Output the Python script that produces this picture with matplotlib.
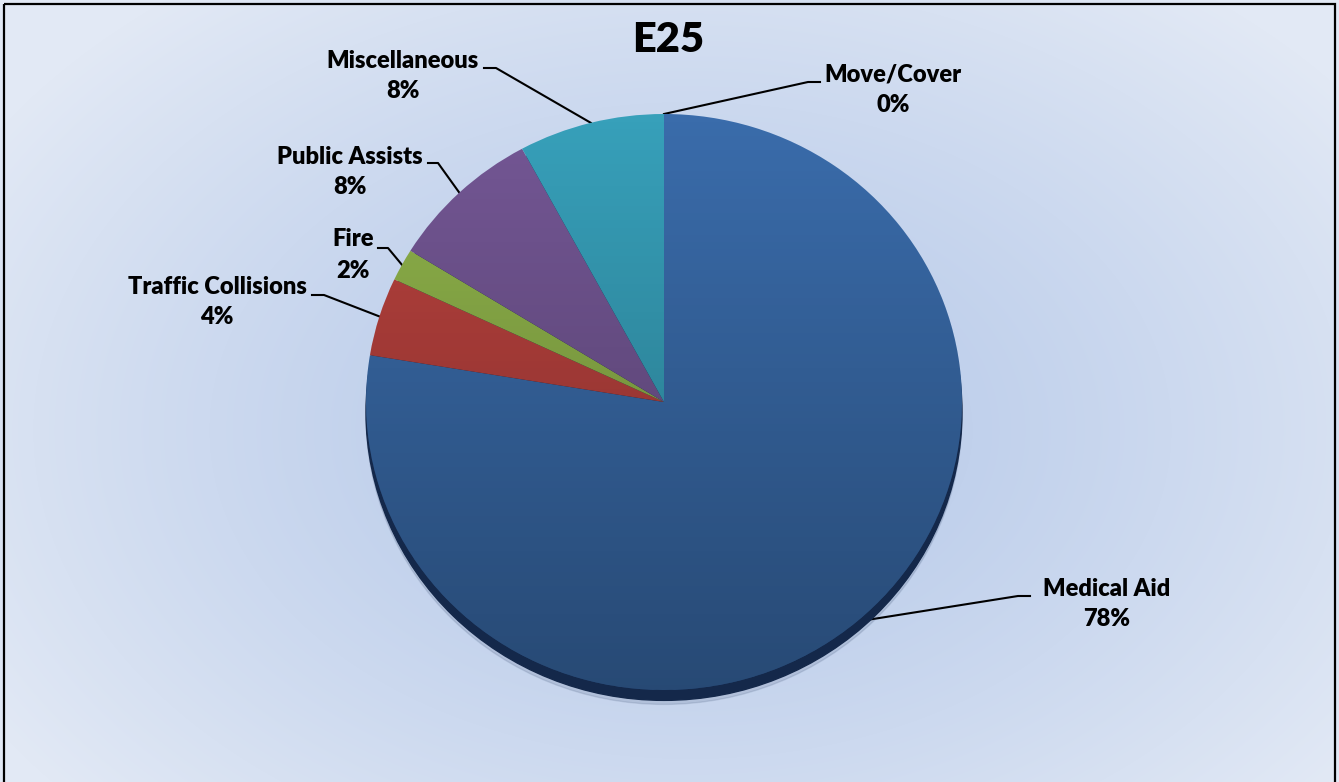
import numpy as np
import matplotlib
matplotlib.use("Agg")
import matplotlib.pyplot as plt
from matplotlib.patches import Ellipse, Circle, Rectangle

plt.rcParams['font.family'] = ['Lato', 'DejaVu Sans']

# data (clockwise from 12 o'clock)
categories = ["Medical Aid", "Traffic Collisions", "Fire", "Public Assists",
              "Miscellaneous", "Move/Cover"]
values = [77.6, 4.4, 1.8, 8.3, 7.9, 0.0]
colors = ["#3a6cab", "#b9423e", "#90b44b", "#745795", "#37a0ba", "#3a6cab"]

# label text centres and leader start points (pixel coords)
label_pos = [(1107, 604), (217, 302), (353, 255), (350, 172), (403, 76), (893, 90)]
line_start = [(1030, 596), (312, 295), (378, 248), (428, 163), (484, 68), (820, 82)]
elbow_len = [-12, 12, 10, 10, 12, -12]

W, H = 1339, 782
fig = plt.figure(figsize=(W / 100, H / 100), dpi=100)

# background with radial gradient
bg = fig.add_axes([0, 0, 1, 1])
bg.set_xlim(0, W)
bg.set_ylim(H, 0)
bg.axis('off')
yy, xx = np.mgrid[0:H, 0:W]
r = np.sqrt(((xx - 690) / 820.0) ** 2 + ((yy - 430) / 560.0) ** 2)
r = np.clip(r, 0, 1) ** 1.3
c0 = np.array([0xb6, 0xc9, 0xe9]) / 255.0
c1 = np.array([0xe2, 0xe9, 0xf5]) / 255.0
img = c0[None, None, :] * (1 - r[..., None]) + c1[None, None, :] * r[..., None]
bg.imshow(img, extent=(0, W, H, 0), aspect='auto', zorder=0)
bg.add_patch(Rectangle((4, 4), W - 8, H + 20, fill=False, edgecolor='black',
                       linewidth=1.6, zorder=5))

# pie
cx, cy, rx, ry = 664, 402, 298, 288
pax = fig.add_axes([(cx - rx) / W, (H - cy - ry) / H, 2 * rx / W, 2 * ry / H])
pax.patch.set_alpha(0)
wedges, _ = pax.pie(values, colors=colors, startangle=90, counterclock=False,
                    radius=1, wedgeprops=dict(linewidth=0))
pax.set_aspect('auto')
pax.set_xlim(-1, 1)
pax.set_ylim(-1, 1)

# 3D rim and soft shadow
pax.add_patch(Ellipse((0.0, -0.05), 2.0, 2.0, color='#1a2f55', alpha=0.12,
                      zorder=0, clip_on=False))
pax.add_patch(Ellipse((0, -0.036), 2.0, 2.0, color='#14284a', zorder=0,
                      clip_on=False))

# vertical shading over the pie
grad = np.zeros((256, 1, 4))
grad[..., 3] = np.linspace(0.0, 0.32, 256)[:, None]
im = pax.imshow(grad, extent=(-1, 1, -1, 1), aspect='auto', zorder=3)
im.set_clip_path(Circle((0, 0), 1, transform=pax.transData))
pax.set_xlim(-1, 1)
pax.set_ylim(-1, 1)
pax.axis('off')

# labels and leader lines
total = sum(values)
cum = 0.0
for i, (cat, v) in enumerate(zip(categories, values)):
    mid = (cum + v / 2.0) / total * 360.0
    cum += v
    ang = np.deg2rad(90 - mid)
    ax_px = cx + rx * np.cos(ang)
    ay_px = cy - ry * np.sin(ang)
    sx, sy = line_start[i]
    ex = sx + elbow_len[i]
    bg.plot([sx, ex, ax_px], [sy, sy, ay_px], color='black', lw=1.5, zorder=4)
    tx, ty = label_pos[i]
    bg.text(tx, ty, "%s\n%d%%" % (cat, round(v)), ha='center', va='center',
            fontsize=17, fontweight='heavy', linespacing=1.5, zorder=6)

bg.text(668, 40, "E25", ha='center', va='center', fontsize=30,
        fontweight='heavy', zorder=6)

fig.savefig("out.png", dpi=100)
